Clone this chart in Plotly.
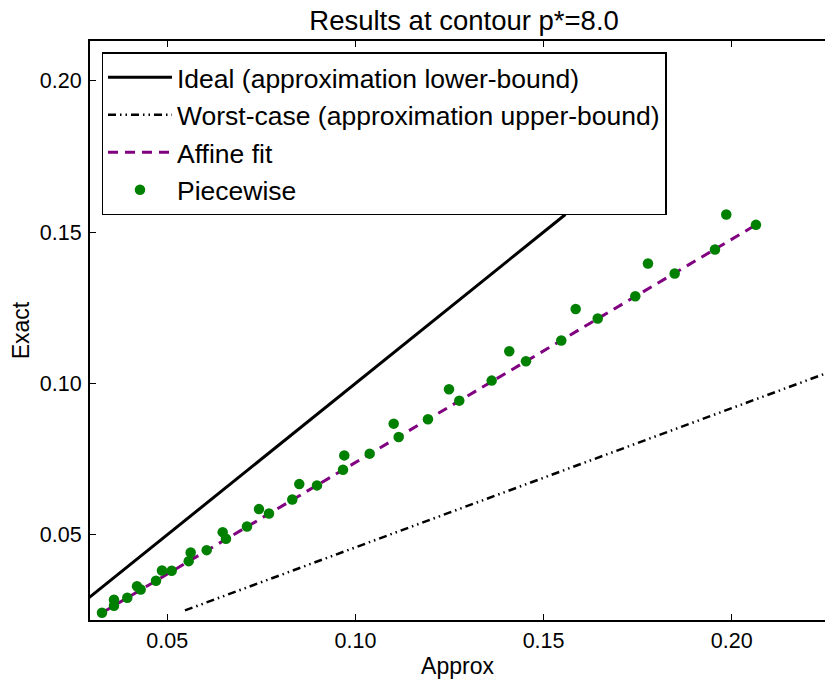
import plotly.graph_objects as go

# Piecewise results: approximate vs exact values along the contour
approx = [0.03265, 0.03583, 0.03583, 0.03937, 0.04195, 0.04293, 0.04700, 0.04859,
          0.05117, 0.05569, 0.05622, 0.06047, 0.06472, 0.06560, 0.07118, 0.07437,
          0.07703, 0.08322, 0.08508, 0.08978, 0.09670, 0.09704, 0.10379, 0.11017,
          0.11150, 0.11928, 0.12487, 0.12760, 0.13621, 0.14089, 0.14533, 0.15471,
          0.15854, 0.16439, 0.17438, 0.17775, 0.18485, 0.19556, 0.19856, 0.20645]
exact = [0.02421, 0.02851, 0.02652, 0.02917, 0.03300, 0.03191, 0.03479, 0.03819,
         0.03810, 0.04127, 0.04415, 0.04491, 0.05086, 0.04868, 0.05274, 0.05847,
         0.05704, 0.06167, 0.06673, 0.06630, 0.07149, 0.07622, 0.07679, 0.08671,
         0.08227, 0.08813, 0.09805, 0.09431, 0.10093, 0.11061, 0.10731, 0.11415,
         0.12460, 0.12143, 0.12880, 0.13962, 0.13631, 0.14425, 0.15582, 0.15238]

# Reference lines (end points)
ideal_x = [0.0242, 0.1558]
ideal_y = [0.0242, 0.1558]
worst_x = [0.0547, 0.2400]
worst_y = [0.0250, 0.1102]
fit_x = [0.03265, 0.20645]
fit_y = [0.02421, 0.15238]

x_ticks = [0.05, 0.10, 0.15, 0.20]
x_tick_text = ["0.05", "0.10", "0.15", "0.20"]
y_ticks = [0.05, 0.10, 0.15, 0.20]
y_tick_text = ["0.05", "0.10", "0.15", "0.20"]

FONT = "Liberation Sans, Arial, sans-serif"

fig = go.Figure()
fig.add_trace(go.Scatter(
    x=ideal_x, y=ideal_y, mode="lines", name="Ideal (approximation lower-bound)",
    line=dict(color="black", width=3)))
fig.add_trace(go.Scatter(
    x=worst_x, y=worst_y, mode="lines", name="Worst-case (approximation upper-bound)",
    line=dict(color="black", width=2.5, dash="8px,4px,1.5px,4px,1.5px,4px")))
fig.add_trace(go.Scatter(
    x=fit_x, y=fit_y, mode="lines", name="Affine fit",
    line=dict(color="#800080", width=3, dash="10px,7px")))
fig.add_trace(go.Scatter(
    x=approx, y=exact, mode="markers", name="Piecewise",
    marker=dict(color="#008000", size=10.5, line=dict(width=0))))

fig.update_layout(
    width=825, height=679,
    margin=dict(l=90, r=0, t=41, b=59),
    paper_bgcolor="white", plot_bgcolor="white",
    font=dict(family=FONT, color="black"),
    title=dict(text="Results at contour p*=8.0", x=0.5625, xanchor="center",
               y=0.97, yanchor="middle", font=dict(size=27.5)),
    showlegend=True,
    legend=dict(x=0.0159, y=0.9805, xanchor="left", yanchor="top",
                bgcolor="white", bordercolor="black", borderwidth=1.3,
                font=dict(size=26.5), itemwidth=64),
)
fig.update_xaxes(
    range=[0.02946, 0.2248], tickvals=x_ticks, ticktext=x_tick_text,
    ticks="inside", ticklen=6, tickwidth=1, tickcolor="black",
    showline=True, linecolor="black", linewidth=2, mirror="ticks",
    showgrid=False, zeroline=False, tickfont=dict(size=21.5),
    title=dict(text="Approx", font=dict(size=23), standoff=6))
fig.update_yaxes(
    range=[0.02183, 0.21313], tickvals=y_ticks, ticktext=y_tick_text,
    ticks="inside", ticklen=6, tickwidth=1, tickcolor="black",
    showline=True, linecolor="black", linewidth=2, mirror=False,
    showgrid=False, zeroline=False, tickfont=dict(size=21.5),
    ticklabelstandoff=2,
    title=dict(text="Exact", font=dict(size=23), standoff=4))

fig.write_html("out.html")
